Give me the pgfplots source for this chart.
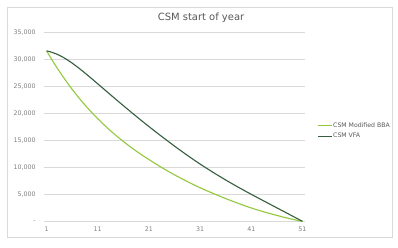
\documentclass[border=0pt]{standalone}
\usepackage{fontspec}
\setmainfont{DejaVu Sans}
\usepackage{pgfplots}
\pgfplotsset{compat=1.18}
\usepackage{pgfplotstable}
\definecolor{bbagreen}{RGB}{146,200,62}
\definecolor{vfagreen}{RGB}{52,94,62}
\definecolor{gridgray}{RGB}{217,217,217}
\definecolor{ticktext}{RGB}{128,128,128}
\definecolor{titletext}{RGB}{89,89,89}

\pgfplotstableread{
year bba vfa
1 31600 31600
2 30020 31350
3 28520 30990
4 27100 30530
5 25750 29970
6 24470 29330
7 23260 28630
8 22110 27880
9 21020 27100
10 19990 26300
11 19015 25490
12 18090 24675
13 17210 23860
14 16370 23050
15 15570 22245
16 14805 21445
17 14075 20650
18 13375 19865
19 12705 19090
20 12065 18325
21 11450 17570
22 10840 16825
23 10255 16090
24 9690 15365
25 9145 14650
26 8620 13945
27 8110 13250
28 7615 12570
29 7135 11905
30 6670 11255
31 6218 10620
32 5798 10000
33 5388 9395
34 4988 8805
35 4598 8227
36 4218 7661
37 3848 7107
38 3488 6565
39 3138 6035
40 2798 5515
41 2468 5005
42 2168 4500
43 1883 3998
44 1608 3498
45 1343 2998
46 1088 2498
47 843 1998
48 608 1498
49 383 998
50 178 498
51 0 0
}\csmdata

\begin{document}
\begin{tikzpicture}
\path[use as bounding box] (0,0) rectangle (398bp,248bp);
\fill[white] (0,0) rectangle (398bp,248bp);
\draw[gridgray, line width=0.8bp] (7bp,11bp) rectangle (392bp,241bp);
\begin{axis}[
  at={(44bp,26.7bp)}, anchor=south west,
  scale only axis, width=261bp, height=188.8bp,
  xmin=0.5, xmax=51.5, ymin=0, ymax=35000,
  scaled y ticks=false, scaled x ticks=false,
  axis line style={draw=none},
  ymajorgrids, major grid style={gridgray, line width=0.7bp},
  tick style={draw=none}, major tick length=0pt,
  xtick={1,11,21,31,41,51},
  xticklabels={1,11,21,31,41,51},
  ytick={0,5000,10000,15000,20000,25000,30000,35000},
  yticklabels={{-\hspace{5bp}},{5,000},{10,000},{15,000},{20,000},{25,000},{30,000},{35,000}},
  ticklabel style={font=\fontsize{6.3}{7.5}\selectfont, text=ticktext},
  xticklabel style={yshift=-2bp},
  yticklabel style={xshift=-4.8bp},
  legend style={draw=none, fill=none, at={(1.046,0.479)}, anchor=west,
    font=\fontsize{6.2}{7.4}\selectfont,
    row sep=3.5bp, inner sep=0pt, nodes={inner sep=0.6bp}},
  legend cell align=left,
]
\addplot[color=bbagreen, line width=1.1bp, no markers,
  legend image code/.code={\draw[draw=bbagreen, line width=1.4bp] (0bp,0bp) -- (14bp,0bp);}]
  table[x=year, y=bba] {\csmdata};
\addlegendentry{\textcolor{titletext}{CSM Modified BBA}}
\addplot[color=vfagreen, line width=1.1bp, no markers,
  legend image code/.code={\draw[draw=vfagreen, line width=1.4bp] (0bp,0bp) -- (14bp,0bp);}]
  table[x=year, y=vfa] {\csmdata};
\addlegendentry{\textcolor{titletext}{CSM VFA}}
\end{axis}
\node[text=titletext, font=\fontsize{10}{12}\selectfont] at (201bp,230bp) {CSM start of year};
\end{tikzpicture}
\end{document}
